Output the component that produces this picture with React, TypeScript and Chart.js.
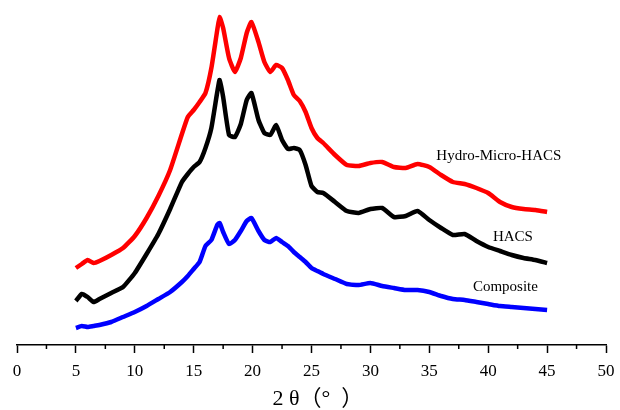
import React, { useEffect, useRef } from "react";
import { Chart, registerables } from "chart.js";

Chart.register(...registerables);

const theta = [5, 5.5, 6, 6.5, 7, 8, 9, 10, 11, 12, 13, 14, 14.5, 15, 15.5, 16, 16.5, 17, 17.2, 17.5, 18, 18.5, 19, 19.5, 19.9, 20.5, 21, 21.5, 22, 22.5, 23, 23.5, 24, 24.5, 25, 25.5, 26, 27, 28, 29, 30, 31, 32, 33, 34, 35, 36, 37, 38, 39, 40, 41, 42, 43, 44, 45];

const hydroMicroHACS = [77, 81, 85, 82, 84, 90, 97, 109, 127, 149, 175, 211, 228, 235, 243, 252, 277, 315, 328, 317, 287, 273, 287, 312, 323, 303, 283, 273, 280, 277, 265, 250, 244, 233, 217, 207, 202, 190, 180, 179, 182, 183, 178, 177, 181, 178, 170, 163, 161, 157, 152, 143, 138, 136, 135, 133];

const hacs = [44, 51, 48, 43, 46, 52, 58, 72, 91, 111, 136, 163, 171, 178, 183, 197, 217, 253, 265, 248, 210, 208, 221, 245, 252, 225, 212, 210, 220, 205, 196, 197, 195, 180, 159, 153, 152, 143, 134, 132, 136, 137, 128, 129, 134, 125, 117, 110, 111, 104, 98, 94, 90, 87, 85, 82];

const composite = [17, 19, 18, 19, 20, 23, 28, 33, 39, 46, 53, 63, 69, 76, 83, 99, 105, 120, 122, 113, 101, 105, 114, 124, 127, 114, 105, 103, 107, 103, 99, 93, 88, 83, 77, 74, 71, 66, 61, 60, 62, 59, 57, 55, 55, 53, 49, 46, 45, 43, 41, 39, 38, 37, 36, 35];

const seriesNames = ["Hydro-Micro-HACS", "HACS", "Composite"];
const seriesColors = ["#ff0000", "#000000", "#0000ff"];
// label anchor (theta, intensity) for each series name
const labelTheta = [35.6, 40.4, 38.7];
const labelIntensity = [189, 108, 58];

const xTickMin = 0;
const xTickMax = 50;
const xTickStep = 5;
const xTitle = "2 θ（°  ）";

export default function App() {
  const ref = useRef<HTMLCanvasElement | null>(null);

  useEffect(() => {
    if (!ref.current) return;
    const all = [hydroMicroHACS, hacs, composite];
    const datasets = all.map((vals, i) => ({
      label: seriesNames[i],
      data: vals.map((v, j) => ({ x: theta[j], y: v })),
      borderColor: seriesColors[i],
      backgroundColor: seriesColors[i],
      borderWidth: 4.5,
      pointRadius: 0,
      tension: 0.15,
      fill: false,
    }));

    const minorTicks = {
      id: "minorTicks",
      afterDraw(chart: any) {
        const ctx = chart.ctx;
        const xs = chart.scales.x;
        const y0 = chart.chartArea.bottom;
        ctx.save();
        ctx.strokeStyle = "#000";
        ctx.lineWidth = 1.5;
        for (let v = xTickMin + xTickStep / 2; v < xTickMax; v += xTickStep) {
          const px = xs.getPixelForValue(v);
          ctx.beginPath();
          ctx.moveTo(px, y0);
          ctx.lineTo(px, y0 + 4);
          ctx.stroke();
        }
        // axis title, placed under the axis centre
        ctx.fillStyle = "#000";
        ctx.font = '22px "Liberation Serif", "Noto Sans CJK SC", serif';
        ctx.textAlign = "left";
        ctx.textBaseline = "middle";
        const cx = (chart.chartArea.left + chart.chartArea.right) / 2;
        ctx.fillText(xTitle, cx - 39, y0 + 54);
        ctx.restore();
      },
    };

    const seriesLabels = {
      id: "seriesLabels",
      afterDatasetsDraw(chart: any) {
        const ctx = chart.ctx;
        const xs = chart.scales.x;
        const ys = chart.scales.y;
        ctx.save();
        ctx.fillStyle = "#000";
        ctx.font = '15px "Liberation Serif", "Times New Roman", serif';
        ctx.textAlign = "left";
        ctx.textBaseline = "middle";
        seriesNames.forEach((name, i) => {
          ctx.fillText(name, xs.getPixelForValue(labelTheta[i]), ys.getPixelForValue(labelIntensity[i]));
        });
        ctx.restore();
      },
    };

    const chart = new Chart(ref.current, {
      type: "line",
      data: { datasets },
      plugins: [minorTicks, seriesLabels],
      options: {
        animation: false,
        responsive: true,
        maintainAspectRatio: false,
        layout: { padding: { left: 17, right: 14, top: 0, bottom: 0 } },
        plugins: { legend: { display: false }, tooltip: { enabled: false } },
        scales: {
          x: {
            type: "linear",
            min: xTickMin,
            max: xTickMax,
            afterFit(scale: any) {
              scale.height = 65;
              scale.paddingLeft = 0;
              scale.paddingRight = 0;
            },
            ticks: {
              stepSize: xTickStep,
              color: "#000",
              padding: 8,
              maxRotation: 0,
              font: { family: '"Liberation Serif", serif', size: 17 },
            },
            grid: {
              display: true,
              drawOnChartArea: false,
              drawTicks: true,
              tickLength: 8,
              tickColor: "#000",
              tickWidth: 1.5,
              color: "#000",
            },
            border: { display: true, color: "#000", width: 1.5 },
            title: { display: false },
          },
          y: {
            type: "linear",
            display: false,
            min: 0,
            max: 345,
          },
        },
      },
    });
    return () => chart.destroy();
  }, []);

  return (
    <div style={{ position: "fixed", left: 0, top: 0, width: 620, height: 410, background: "#fff" }}>
      <canvas ref={ref} />
    </div>
  );
}
